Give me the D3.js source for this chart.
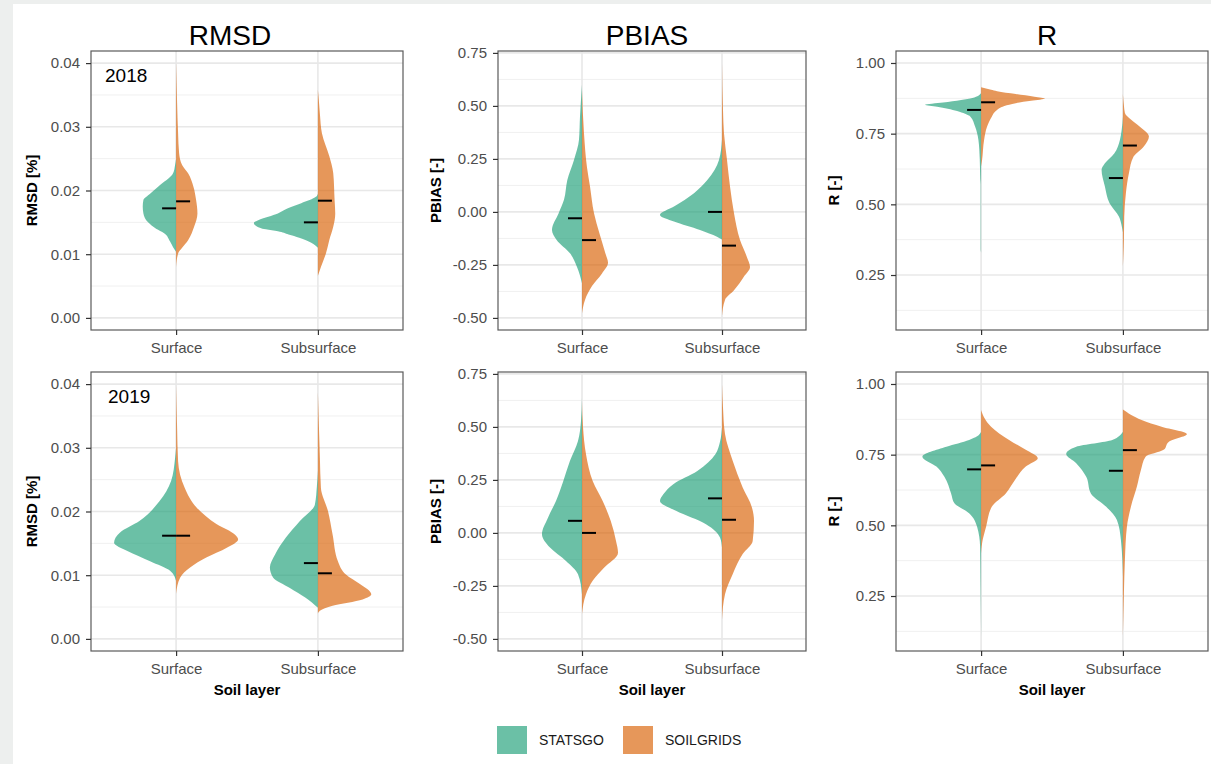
<!DOCTYPE html>
<html>
<head>
<meta charset="utf-8">
<script src="https://cdn.jsdelivr.net/npm/d3@7"></script>
<style>
body { margin: 0; background: #edefee; }
svg { display: block; }
text { font-family: "Liberation Sans", Arial, Helvetica, sans-serif; }
</style>
</head>
<body>
<svg width="1211" height="764"></svg>
<script>
// categories / groups
var categories = ["Surface", "Subsurface"];
var sources = ["STATSGO", "SOILGRIDS"];
var sourceColors = ["#1b9e77", "#d95f02"];
var metricNames = ["RMSD", "PBIAS", "R"];
var metricTitles = ["RMSD [%]", "PBIAS [-]", "R [-]"];
var years = ["2018", "2019"];

// axis ticks and ranges
var rmsdTicks = [0, 0.01, 0.02, 0.03, 0.04];
var rmsdMinor = [0.005, 0.015, 0.025, 0.035];
var rmsdDomain = [-0.0019, 0.0419];
var pbiasTicks = [-0.5, -0.25, 0, 0.25, 0.5, 0.75];
var pbiasMinor = [-0.375, -0.125, 0.125, 0.375, 0.625];
var pbiasDomain = [-0.557, 0.759];
var rTicks = [0.25, 0.5, 0.75, 1.0];
var rMinor = [0.125, 0.375, 0.625, 0.875];
var rDomain = [0.0555, 1.0424];

// violin profiles: [value, relative density 0-100]
var rmsd2018SurfStats = [[0.0250,0],[0.0240,1.5],[0.0227,4.5],[0.0206,27],[0.0195,39],[0.0185,49],[0.0175,50],[0.0164,49],[0.0150,42],[0.0140,30],[0.0133,18],[0.0120,9],[0.0111,4.5],[0.0104,0]];
var rmsd2018SurfSoil = [[0.040,0],[0.036,1],[0.0338,1.5],[0.029,3],[0.0259,4.5],[0.024,9],[0.0227,18],[0.0206,26],[0.0185,30],[0.0164,32],[0.0143,27],[0.0122,18],[0.011,9],[0.0101,3],[0.008,0]];
var rmsd2018SubStats = [[0.0195,0],[0.019,3],[0.018,25],[0.0172,45],[0.0164,60],[0.0154,88],[0.0149,96],[0.0144,92],[0.0139,78],[0.0136,60],[0.0131,44],[0.0126,28],[0.0118,10],[0.011,0]];
var rmsd2018SubSoil = [[0.0358,0],[0.034,1.5],[0.032,3],[0.029,6],[0.0254,17],[0.0227,23],[0.0185,25],[0.0164,26],[0.0143,23],[0.0122,17],[0.0101,12],[0.008,4.5],[0.0066,0]];

var pbias2018SurfStats = [[0.60,0],[0.45,3],[0.34,4.5],[0.245,12],[0.15,22],[0.057,27],[-0.006,35],[-0.085,45],[-0.132,38],[-0.195,18],[-0.26,7.5],[-0.336,0]];
var pbias2018SurfSoil = [[0.575,0],[0.37,3],[0.21,7.5],[0.12,12],[-0.006,18],[-0.1,26],[-0.195,35],[-0.24,39],[-0.29,30],[-0.35,15],[-0.415,4.5],[-0.478,0]];
var pbias2018SubStats = [[0.34,0],[0.245,4.5],[0.15,22],[0.088,42],[0.025,72],[-0.014,93],[-0.045,72],[-0.085,33],[-0.117,7.5],[-0.13,0]];
var pbias2018SubSoil = [[0.70,0],[0.48,1.5],[0.37,3],[0.245,7.5],[0.12,12],[-0.006,18],[-0.132,27],[-0.21,37],[-0.26,42],[-0.305,33],[-0.37,18],[-0.415,4.5],[-0.49,0]];

var r2018SurfStats = [[0.893,0],[0.876,13],[0.869,30],[0.86,57],[0.852,84],[0.845,66],[0.838,50],[0.83,36],[0.82,24],[0.81,16],[0.775,9],[0.728,4],[0.66,2],[0.59,1.2],[0.57,0.6],[0.34,0.6],[0.33,0]];
var r2018SurfSoil = [[0.914,0],[0.905,15],[0.9,24],[0.89,52],[0.881,80],[0.874,96],[0.866,75],[0.858,52],[0.848,35],[0.83,22],[0.81,16],[0.775,9],[0.728,4.5],[0.657,1.5],[0.634,0]];
var r2018SubStats = [[0.81,0],[0.76,2],[0.728,4.5],[0.68,13],[0.645,27],[0.622,32],[0.563,27],[0.504,20],[0.457,6],[0.42,1.5],[0.40,0]];
var r2018SubSoil = [[0.89,0],[0.85,1.5],[0.823,3],[0.8,12],[0.775,25],[0.74,39],[0.704,31],[0.669,16],[0.61,9],[0.54,4.5],[0.457,2],[0.374,1.5],[0.28,0]];

var rmsd2019SurfStats = [[0.030,0],[0.0284,1.5],[0.0248,7.5],[0.0216,25],[0.0185,55],[0.0167,84],[0.0151,93],[0.0138,73],[0.0122,39],[0.0107,9],[0.0091,0]];
var rmsd2019SurfSoil = [[0.0398,0],[0.0332,1.5],[0.0279,3],[0.0237,13],[0.0206,31],[0.018,61],[0.0164,88],[0.0156,93],[0.0143,76],[0.0128,46],[0.0112,21],[0.0096,6],[0.0071,0]];
var rmsd2019SubStats = [[0.0264,0],[0.024,1.5],[0.0211,4.5],[0.0185,27],[0.0159,48],[0.0133,64],[0.0112,72],[0.0096,67],[0.008,42],[0.0065,19],[0.0049,0]];
var rmsd2019SubSoil = [[0.0387,0],[0.0284,3],[0.0237,4.5],[0.0201,15],[0.0164,22],[0.0122,30],[0.0101,42],[0.0086,63],[0.007,80],[0.0062,67],[0.0052,22],[0.0044,3],[0.0040,0]];

var pbias2019SurfStats = [[0.638,0],[0.528,1.5],[0.434,6],[0.34,18],[0.245,28],[0.151,39],[0.072,51],[-0.006,60],[-0.069,48],[-0.132,24],[-0.195,6],[-0.29,0]];
var pbias2019SurfSoil = [[0.62,0],[0.50,1.5],[0.371,6],[0.245,16],[0.151,31],[0.057,43],[-0.038,51],[-0.093,54],[-0.164,33],[-0.226,16],[-0.289,6],[-0.383,0]];
var pbias2019SubStats = [[0.497,0],[0.43,3],[0.371,10],[0.292,37],[0.23,73],[0.182,88],[0.151,93],[0.104,69],[0.041,24],[-0.022,3],[-0.069,0]];
var pbias2019SubSoil = [[0.70,0],[0.59,1.5],[0.466,4.5],[0.34,16],[0.214,31],[0.119,45],[0.057,48],[-0.038,46],[-0.1,31],[-0.195,16],[-0.289,4.5],[-0.41,0]];

var r2019SurfStats = [[0.831,0],[0.815,6],[0.802,18],[0.778,52],[0.743,88],[0.708,67],[0.672,55],[0.613,45],[0.578,40],[0.543,18],[0.495,6],[0.425,1.5],[0.3,0.8],[0.107,0]];
var r2019SurfSoil = [[0.908,0],[0.88,5],[0.849,15],[0.802,42],[0.767,67],[0.737,85],[0.708,67],[0.661,51],[0.613,37],[0.566,16],[0.495,7.5],[0.437,1.5],[0.40,0]];
var r2019SubStats = [[0.831,0],[0.802,16],[0.778,70],[0.752,85],[0.72,70],[0.672,55],[0.613,48],[0.566,25],[0.519,9],[0.448,3],[0.318,0]];
var r2019SubSoil = [[0.91,0],[0.873,28],[0.849,58],[0.823,96],[0.796,69],[0.767,61],[0.743,34],[0.696,27],[0.637,21],[0.566,12],[0.495,6],[0.378,3],[0.26,1.5],[0.107,0]];

// medians: [category][source]
var rmsd2018Medians = [[0.0172, 0.0183], [0.0150, 0.0184]];
var pbias2018Medians = [[-0.030, -0.133], [0.000, -0.159]];
var r2018Medians = [[0.834, 0.861], [0.593, 0.708]];
var rmsd2019Medians = [[0.0162, 0.0162], [0.0119, 0.0103]];
var pbias2019Medians = [[0.057, 0.000], [0.163, 0.062]];
var r2019Medians = [[0.698, 0.712], [0.693, 0.766]];

// lookups built from the arrays above
var tickSets = [rmsdTicks, pbiasTicks, rTicks];
var minorSets = [rmsdMinor, pbiasMinor, rMinor];
var domainSets = [rmsdDomain, pbiasDomain, rDomain];
var violinSets = [
    [[[rmsd2018SurfStats, rmsd2018SurfSoil], [rmsd2018SubStats, rmsd2018SubSoil]],
     [[rmsd2019SurfStats, rmsd2019SurfSoil], [rmsd2019SubStats, rmsd2019SubSoil]]],
    [[[pbias2018SurfStats, pbias2018SurfSoil], [pbias2018SubStats, pbias2018SubSoil]],
     [[pbias2019SurfStats, pbias2019SurfSoil], [pbias2019SubStats, pbias2019SubSoil]]],
    [[[r2018SurfStats, r2018SurfSoil], [r2018SubStats, r2018SubSoil]],
     [[r2019SurfStats, r2019SurfSoil], [r2019SubStats, r2019SubSoil]]]
];
var medianSets = [[rmsd2018Medians, rmsd2019Medians], [pbias2018Medians, pbias2019Medians], [r2018Medians, r2019Medians]];

// layout
var panelLeft = [91, 498, 896],
    panelWidth = [312, 308, 312],
    rowTop = [51, 372],
    panelHeight = 279,
    titleX = [230, 647, 1047],
    medianLen = 14;

var svg = d3.select("svg");

svg.append("rect")
    .attr("x", 13).attr("y", 4)
    .attr("width", 1198).attr("height", 760)
    .attr("fill", "#ffffff");

var w = d3.scaleLinear().domain([0, 100]).range([0, 66.7]);

metricNames.forEach(function(m, mi) {
    years.forEach(function(yr, ri) {
        var pw = panelWidth[mi], ph = panelHeight;
        var g = svg.append("g")
            .attr("transform", "translate(" + panelLeft[mi] + "," + rowTop[ri] + ")");

        var x = d3.scalePoint().domain(categories).range([0, pw]).padding(0.6);
        var y = d3.scaleLinear().domain(domainSets[mi]).range([ph, 0]);

        // grid
        g.selectAll(".minor").data(minorSets[mi]).enter().append("line")
            .attr("x1", 0).attr("x2", pw)
            .attr("y1", function(d) { return y(d); }).attr("y2", function(d) { return y(d); })
            .attr("stroke", "#f0f0f0").attr("stroke-width", 1);
        g.selectAll(".major").data(tickSets[mi]).enter().append("line")
            .attr("x1", 0).attr("x2", pw)
            .attr("y1", function(d) { return y(d); }).attr("y2", function(d) { return y(d); })
            .attr("stroke", "#e8e8e8").attr("stroke-width", 1.6);
        g.selectAll(".vgrid").data(categories).enter().append("line")
            .attr("x1", function(d) { return x(d); }).attr("x2", function(d) { return x(d); })
            .attr("y1", 0).attr("y2", ph)
            .attr("stroke", "#e8e8e8").attr("stroke-width", 1.6);

        // violins
        categories.forEach(function(c, ci) {
            sources.forEach(function(s, si) {
                var side = si === 0 ? -1 : 1;
                var prof = violinSets[mi][ri][ci][si].slice().sort(function(a, b) { return b[0] - a[0]; });
                var area = d3.area()
                    .curve(d3.curveMonotoneY)
                    .y(function(d) { return y(d[0]); })
                    .x0(x(c))
                    .x1(function(d) { return x(c) + side * w(d[1]); });
                g.append("path")
                    .datum(prof)
                    .attr("d", area)
                    .attr("fill", sourceColors[si])
                    .attr("fill-opacity", 0.65);
            });
        });

        // medians
        categories.forEach(function(c, ci) {
            sources.forEach(function(s, si) {
                var side = si === 0 ? -1 : 1;
                var v = medianSets[mi][ri][ci][si];
                g.append("line")
                    .attr("x1", x(c)).attr("x2", x(c) + side * medianLen)
                    .attr("y1", y(v)).attr("y2", y(v))
                    .attr("stroke", "#000").attr("stroke-width", 2);
            });
        });

        // border
        g.append("rect")
            .attr("width", pw).attr("height", ph)
            .attr("fill", "none").attr("stroke", "#5a5a5a").attr("stroke-width", 1.2);

        // axes
        var ya = g.append("g")
            .call(d3.axisLeft(y).tickValues(tickSets[mi]).tickSize(5).tickPadding(6)
                .tickFormat(function(d) { return d.toFixed(2); }));
        var xa = g.append("g").attr("transform", "translate(0," + ph + ")")
            .call(d3.axisBottom(x).tickSize(5).tickPadding(7));
        [ya, xa].forEach(function(a) {
            a.select(".domain").remove();
            a.selectAll(".tick line").attr("stroke", "#333").attr("stroke-width", 1.2);
            a.selectAll(".tick text")
                .attr("fill", "#4d4d4d")
                .style("font-size", "15px")
                .style("font-family", '"Liberation Sans", Arial, sans-serif');
        });

        // y title
        g.append("text")
            .attr("transform", "translate(" + (mi === 0 ? -54 : -57) + "," + (ph / 2) + ") rotate(-90)")
            .attr("text-anchor", "middle")
            .style("font-size", "15px").style("font-weight", "bold")
            .attr("fill", "#000")
            .text(metricTitles[mi]);

        if (ri === 1) {
            g.append("text")
                .attr("x", pw / 2).attr("y", ph + 44)
                .attr("text-anchor", "middle")
                .style("font-size", "15px").style("font-weight", "bold")
                .text("Soil layer");
        }
        if (mi === 0) {
            g.append("text")
                .attr("x", 14 + ri * 3).attr("y", 31)
                .style("font-size", "19px")
                .text(yr);
        }
        if (ri === 0) {
            svg.append("text")
                .attr("x", titleX[mi]).attr("y", 45)
                .attr("text-anchor", "middle")
                .style("font-size", "28px")
                .text(m);
        }
    });
});

// legend
var legend = svg.append("g").attr("transform", "translate(497,726)");
var legX = [0, 126];
sources.forEach(function(s, si) {
    legend.append("rect")
        .attr("x", legX[si]).attr("y", 0)
        .attr("width", 30).attr("height", 28)
        .attr("fill", sourceColors[si]).attr("fill-opacity", 0.65);
    legend.append("text")
        .attr("x", legX[si] + 42).attr("y", 14)
        .attr("dy", "0.35em")
        .style("font-size", "14px")
        .attr("fill", "#1a1a1a")
        .text(s);
});
</script>
</body>
</html>
